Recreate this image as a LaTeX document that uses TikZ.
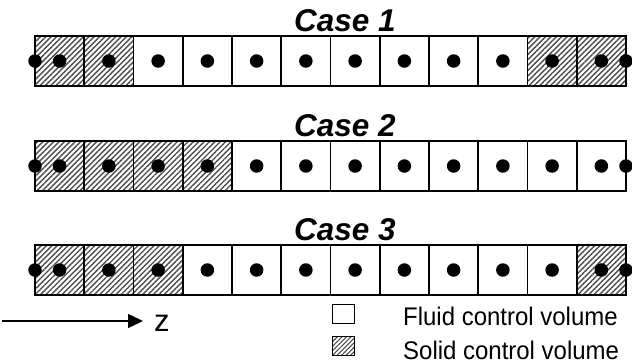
\documentclass[tikz,border=0pt]{standalone}
\usepackage{fontspec}
\setmainfont{Liberation Sans}
\newfontfamily\legfont[FakeStretch=0.94]{Liberation Sans}
\usetikzlibrary{patterns.meta,arrows.meta}
\begin{document}
\begin{tikzpicture}[x=1pt,y=-1pt,
  cell/.style={minimum width=49.25pt, minimum height=50pt, inner sep=0pt, outer sep=0pt},
  scv/.style={cell, pattern={Lines[angle=45,distance=3.8pt,line width=1.4pt]}, pattern color=black!70},
  fcv/.style={cell},
  border/.style={draw=black, line width=1.8pt},
  dotnode/.style={circle, fill=black, minimum size=13.5pt, inner sep=0pt, outer sep=0pt},
  title/.style={font=\fontsize{31.5}{31.5}\selectfont\bfseries\itshape, anchor=base, inner sep=0pt},
  legtext/.style={font=\fontsize{25.5}{25.5}\legfont, anchor=base west, inner sep=0pt},
  legbox/.style={draw=black, line width=1.3pt, minimum width=22pt, minimum height=19pt, inner sep=0pt}]
\useasboundingbox (0,0) rectangle (632,362);
% titles
\node[title] (t1) at (345,31) {Case 1};
\node[title] (t2) at (345,136) {Case 2};
\node[title] (t3) at (345,240) {Case 3};
% row 1
\foreach \t [count=\i] in {s,s,f,f,f,f,f,f,f,f,s,s}
  \node[\t cv] (a\i) at ({35+(\i-0.5)*49.25},61) {};
% row 2
\foreach \t [count=\i] in {s,s,s,s,f,f,f,f,f,f,f,f}
  \node[\t cv] (b\i) at ({35+(\i-0.5)*49.25},166) {};
% row 3
\foreach \t [count=\i] in {s,s,s,f,f,f,f,f,f,f,f,s}
  \node[\t cv] (c\i) at ({35+(\i-0.5)*49.25},270) {};
% borders and dots
\foreach \r in {a,b,c} {
  \foreach \i in {1,...,12} {
    \draw[border] (\r\i.north west) rectangle (\r\i.south east);
    \node[dotnode] (\r d\i) at (\r\i.center) {};
  }
  \node[dotnode] (\r L) at (\r1.west) {};
  \node[dotnode] (\r R) at (\r12.east) {};
}
% axis arrow
\coordinate (zs) at (2,321);
\node[font=\fontsize{31}{31}\selectfont, anchor=base west, inner sep=0pt, inner xsep=11pt] (z) at (143,331.5) {z};
\draw[line width=1.5pt, -{Triangle[length=15pt,width=14pt]}] (zs) -- (zs -| z.west);
% legend
\node[legbox, fill=white] (lf) at (343.5,314) {};
\node[legbox, pattern={Lines[angle=45,distance=3.2pt,line width=1.1pt]}, pattern color=black!70] (ls) at (343.5,346) {};
\node[legtext] (lft) at (403,325) {Fluid control volume};
\node[legtext] (lst) at (403,359.5) {Solid control volume};
\end{tikzpicture}
\end{document}
